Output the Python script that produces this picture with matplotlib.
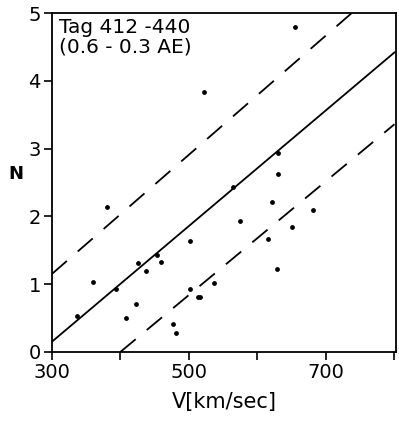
import numpy as np
import matplotlib.pyplot as plt

# solar wind speed V and N for days 412-440
v_pts = [336, 360, 381, 393, 408, 423, 426, 437, 453, 460, 477, 481,
         502, 501, 513, 516, 537, 564, 630, 655, 522, 630, 622, 574,
         681, 651, 615, 629]
n_pts = [0.53, 1.03, 2.14, 0.93, 0.50, 0.70, 1.31, 1.20, 1.43, 1.33, 0.41, 0.28,
         1.63, 0.93, 0.81, 0.81, 1.02, 2.43, 2.94, 4.79, 3.83, 2.62, 2.22, 1.93,
         2.09, 1.84, 1.67, 1.22]

# regression line and the two dashed bounds: (V, N) end points
fit_v = [300, 800]
fit_n = [0.15, 4.42]
upper_v = [300, 800]
upper_n = [1.15, 5.55]
lower_v = [400, 800]
lower_n = [0.0, 3.36]

x_ticks = [300, 400, 500, 600, 700, 800]
x_labels = ["300", "", "500", "", "700", ""]
y_ticks = [0, 1, 2, 3, 4, 5]

fig = plt.figure(figsize=(3.99, 4.24), dpi=100)
ax = fig.add_axes([0.130, 0.170, 0.862, 0.799])

ax.plot(fit_v, fit_n, color="black", lw=1.3)
ax.plot(upper_v, upper_n, color="black", lw=1.3, dashes=(11, 8))
ax.plot(lower_v, lower_n, color="black", lw=1.3, dashes=(11, 8))
ax.scatter(v_pts, n_pts, s=6, color="black", marker="o", zorder=3)

ax.set_xlim(300, 802)
ax.set_ylim(0, 5)
ax.set_xticks(x_ticks)
ax.set_xticklabels(x_labels)
ax.set_yticks(y_ticks)
ax.tick_params(direction="out", length=6, width=1.2, labelsize=14, pad=2)
for s in ax.spines.values():
    s.set_linewidth(1.3)

ax.set_xlabel("V[km/sec]", fontsize=15, labelpad=7)
ax.set_ylabel("N", fontsize=13, rotation=0, labelpad=9, fontweight="bold")

ax.text(0.02, 0.985, "Tag 412 -440\n(0.6 - 0.3 AE)", transform=ax.transAxes,
        ha="left", va="top", fontsize=14.5, linespacing=1.05)

fig.savefig("out.png", dpi=100)
